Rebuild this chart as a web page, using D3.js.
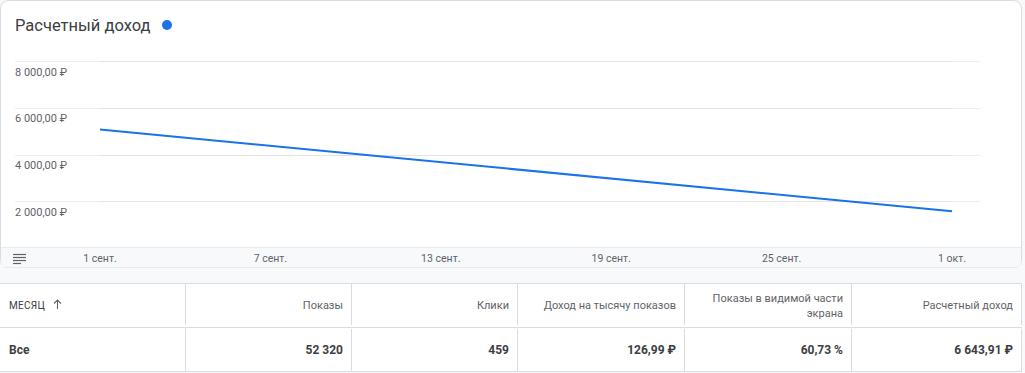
<!DOCTYPE html>
<html>
<head>
<meta charset="utf-8">
<script src="https://cdn.jsdelivr.net/npm/d3@7"></script>
<style>
  body { margin: 0; background: #f8f9fa; font-family: Roboto, "Noto Sans", sans-serif; }
  svg { display: block; }
</style>
</head>
<body>
<svg id="chart" width="1025" height="373"></svg>
<script>
// chart data
const months = ["2023-09-01", "2023-10-01"];
const revenue = [5068.5, 1575.41];
const yTicks = [2000, 4000, 6000, 8000];
const xTicks = ["2023-09-01", "2023-09-07", "2023-09-13", "2023-09-19", "2023-09-25", "2023-10-01"];
const monthNames = ["янв.", "февр.", "марта", "апр.", "мая", "июня", "июля", "авг.", "сент.", "окт.", "нояб.", "дек."];

// table data
const columns = ["Показы", "Клики", "Доход на тысячу показов", "Показы в видимой части|экрана", "Расчетный доход"];
const totals = ["52 320", "459", "126,99 ₽", "60,73 %", "6 643,91 ₽"];

const parse = d3.timeParse("%Y-%m-%d");
const ru = d3.formatLocale({decimal: ",", thousands: "\u00a0", grouping: [3], currency: ["", "\u00a0₽"]});
const fmtMoney = ru.format("$,.2f");

const svg = d3.select("#chart");

// card
svg.append("rect")
    .attr("x", 0.5).attr("y", 0.5)
    .attr("width", 1021).attr("height", 267)
    .attr("rx", 8)
    .attr("fill", "white")
    .attr("stroke", "#dadce0");

// bottom strip of the card
svg.append("path")
    .attr("d", "M1,247 H1021 V260 Q1021,267.5 1013,267.5 H9 Q1,267.5 1,260 Z")
    .attr("fill", "#f8f9fa");
svg.append("line")
    .attr("x1", 1).attr("x2", 1021).attr("y1", 247.5).attr("y2", 247.5)
    .attr("stroke", "#e8eaed");

// title
svg.append("text")
    .attr("x", 15).attr("y", 31)
    .attr("font-size", 16.5)
    .attr("fill", "#3c4043")
    .text("Расчетный доход");
svg.append("circle")
    .attr("cx", 167).attr("cy", 25).attr("r", 5)
    .attr("fill", "#1a73e8");

const x = d3.scaleTime()
    .domain([parse(months[0]), parse(months[1])])
    .range([100, 952]);
const y = d3.scaleLinear()
    .domain([0, 8000])
    .range([248, 61]);

// gridlines: light across, darker inside the data range
const grid = svg.append("g");
grid.selectAll("line.outer")
    .data(yTicks)
    .join("line")
    .attr("class", "outer")
    .attr("x1", 15).attr("x2", 980)
    .attr("y1", d => Math.round(y(d)) + 0.5).attr("y2", d => Math.round(y(d)) + 0.5)
    .attr("stroke", "#eeeeee");
grid.selectAll("line.inner")
    .data(yTicks)
    .join("line")
    .attr("class", "inner")
    .attr("x1", x.range()[0]).attr("x2", x.range()[1])
    .attr("y1", d => Math.round(y(d)) + 0.5).attr("y2", d => Math.round(y(d)) + 0.5)
    .attr("stroke", "#e3e3e3");

grid.selectAll("text")
    .data(yTicks)
    .join("text")
    .attr("x", 15)
    .attr("y", d => y(d) + 14.5)
    .attr("font-size", 11)
    .attr("fill", "#5f6368")
    .text(d => fmtMoney(d));

// x axis labels
svg.append("g")
    .selectAll("text")
    .data(xTicks.map(parse))
    .join("text")
    .attr("x", d => x(d))
    .attr("y", 262)
    .attr("text-anchor", "middle")
    .attr("font-size", 10.5)
    .attr("fill", "#5f6368")
    .text(d => d.getDate() + " " + monthNames[d.getMonth()]);

// legend icon
svg.append("g")
    .selectAll("line")
    .data([0, 1, 2, 3])
    .join("line")
    .attr("x1", 13)
    .attr("x2", (d, i) => i == 3 ? 21 : 26)
    .attr("y1", d => 254.5 + d * 3)
    .attr("y2", d => 254.5 + d * 3)
    .attr("stroke", "#5f6368")
    .attr("stroke-width", 1.2);

// the line
const line = d3.line()
    .x((d, i) => x(parse(months[i])))
    .y(d => y(d));
svg.append("path")
    .datum(revenue)
    .attr("d", line)
    .attr("fill", "none")
    .attr("stroke", "#1a73e8")
    .attr("stroke-width", 2);

// table
const colEdges = [0, 186, 352, 518, 685, 852, 1022];
const table = svg.append("g");
table.append("rect")
    .attr("x", 0).attr("y", 283)
    .attr("width", 1022).attr("height", 89)
    .attr("fill", "white");
table.selectAll("line.h")
    .data([283.5, 327.5, 371.5])
    .join("line")
    .attr("class", "h")
    .attr("x1", 0).attr("x2", 1022)
    .attr("y1", d => d).attr("y2", d => d)
    .attr("stroke", "#dadce0");
colEdges.slice(1).forEach(cx => {
    [[284, 325], [329, 371]].forEach(seg => {
        table.append("line")
            .attr("x1", cx - 0.5).attr("x2", cx - 0.5)
            .attr("y1", seg[0]).attr("y2", seg[1])
            .attr("stroke", "#dadce0");
    });
});

// first column
table.append("text")
    .attr("x", 9).attr("y", 309)
    .attr("font-size", 10)
    .attr("letter-spacing", 0.3)
    .attr("fill", "#3c4043")
    .text("МЕСЯЦ");
table.append("path")
    .attr("d", "M57.5,309 V300 M54,303.5 L57.5,300 L61,303.5")
    .attr("fill", "none")
    .attr("stroke", "#5f6368")
    .attr("stroke-width", 1.1);
table.append("text")
    .attr("x", 9).attr("y", 354)
    .attr("font-size", 12)
    .attr("font-weight", "bold")
    .attr("fill", "#3c4043")
    .text("Все");

columns.forEach((c, i) => {
    const right = colEdges[i + 2] - 9;
    const parts = c.split("|");
    const t = table.append("text")
        .attr("text-anchor", "end")
        .attr("font-size", 11)
        .attr("fill", "#5f6368");
    parts.forEach((p, j) => {
        t.append("tspan")
            .attr("x", right)
            .attr("y", parts.length == 1 ? 309 : 302 + j * 15)
            .text(p);
    });
    table.append("text")
        .attr("x", right).attr("y", 354)
        .attr("text-anchor", "end")
        .attr("font-size", 12)
        .attr("font-weight", "bold")
        .attr("fill", "#3c4043")
        .text(totals[i]);
});
</script>
</body>
</html>
